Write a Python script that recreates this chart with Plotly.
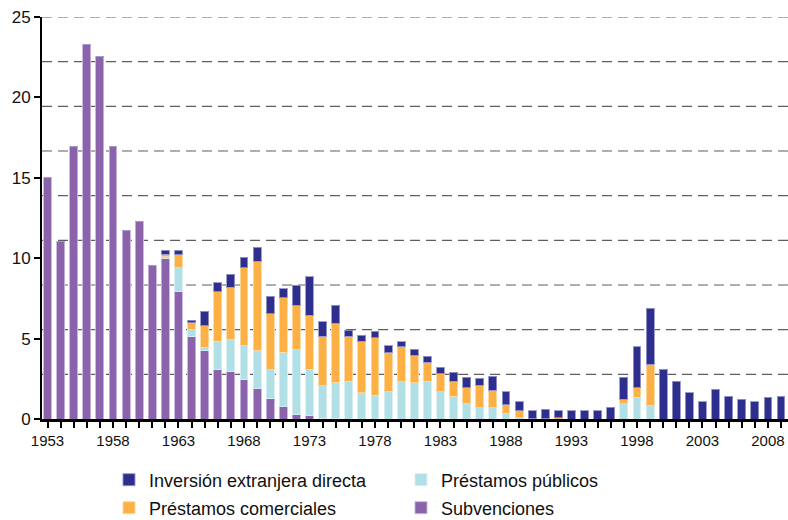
import plotly.graph_objects as go

years = list(range(1953, 2010))

subvenciones = [15.0, 11.05, 16.93, 23.32, 22.53, 16.93, 11.75, 12.29, 9.56,
                10.0, 7.95, 5.1, 4.25, 3.05, 2.95, 2.43, 1.9, 1.25, 0.75, 0.25,
                0.2, 0.05, 0.05] + [0] * 34

prestamos_publicos = [0] * 9 + [0.1, 1.45, 0.45, 0.2, 1.8, 1.97, 2.17, 2.38, 1.8, 3.4,
                                4.05, 2.9, 2.02, 2.23, 2.34, 1.62, 1.47, 1.68, 2.32, 2.24,
                                2.36, 1.68, 1.41, 0.95, 0.7, 0.7, 0.37, 0.1, 0.02, 0.03,
                                0, 0, 0, 0, 0, 0.95, 1.35, 0.81] + [0] * 10

prestamos_comerciales = [0] * 9 + [0.15, 0.8, 0.45, 1.35, 3.07, 3.28, 4.81, 5.54, 3.5, 3.4,
                                   2.76, 3.34, 3.09, 3.67, 2.8, 3.23, 3.59, 2.44, 2.16, 1.74,
                                   1.17, 1.12, 0.93, 0.98, 1.41, 1.08, 0.52, 0.42, 0, 0,
                                   0.07, 0, 0, 0, 0, 0.27, 0.58, 2.61] + [0] * 10

inversion_directa = [0] * 9 + [0.25, 0.3, 0.15, 0.9, 0.55, 0.8, 0.65, 0.85, 1.08, 0.56,
                               1.26, 2.4, 0.89, 1.12, 0.39, 0.35, 0.39, 0.44, 0.33, 0.35,
                               0.37, 0.43, 0.58, 0.68, 0.42, 0.87, 0.79, 0.56, 0.5, 0.59,
                               0.45, 0.52, 0.52, 0.52, 0.72, 1.39, 2.57, 3.46, 3.09, 2.36,
                               1.62, 1.08, 1.85, 1.43, 1.24, 1.08, 1.35, 1.43]

y_ticks = [0, 5, 10, 15, 20, 25]
x_label_years = [1953, 1958, 1963, 1968, 1973, 1978, 1983, 1988, 1993, 1998, 2003, 2008]

# (name, values, colour, edge colour, legend, rank)
series = [
    ("Subvenciones", subvenciones, "#8a63ab", "rgba(200,180,225,0.9)", "legend2", 2),
    ("Préstamos públicos", prestamos_publicos, "#b0dfe5", "rgba(215,240,243,0.9)", "legend", 2),
    ("Préstamos comerciales", prestamos_comerciales, "#fdb043", "rgba(254,215,160,0.9)", "legend2", 1),
    ("Inversión extranjera directa", inversion_directa, "#2e2e8f", "rgba(150,150,200,0.9)", "legend", 1),
]

fig = go.Figure()
for name, vals, color, edge, leg, rank in series:
    fig.add_trace(go.Bar(
        x=years, y=vals, name=name, width=0.6,
        marker=dict(color=color, line=dict(color=edge, width=1)),
        legend=leg, legendrank=rank,
    ))

# dashed grid lines: 9 equal divisions of the 0-25 range
for i in range(1, 10):
    fig.add_shape(type="line", xref="paper", x0=0, x1=1, yref="y",
                  y0=25 * i / 9, y1=25 * i / 9, layer="below",
                  line=dict(color="#5f5f5f", width=1.2, dash="10px,6px"))

legend_common = dict(orientation="h", xanchor="left", yanchor="middle",
                     entrywidth=247, entrywidthmode="pixels", traceorder="normal",
                     font=dict(size=18, color="#111111"), bgcolor="rgba(0,0,0,0)")

fig.update_layout(
    width=788, height=520,
    margin=dict(l=42, r=0, t=17, b=101, autoexpand=False),
    paper_bgcolor="white", plot_bgcolor="white",
    barmode="stack",
    font=dict(family="Liberation Sans, Arial, sans-serif", color="#111111"),
    showlegend=True,
    legend=dict(x=0.0898, y=-0.1517, **legend_common),
    legend2=dict(x=0.0898, y=-0.2214, **legend_common),
    xaxis=dict(range=[1952.58, 2009.53], tickmode="array", tickvals=years,
               ticktext=[str(y) if y in x_label_years else "" for y in years],
               ticks="outside", ticklen=6, tickwidth=2, tickcolor="black",
               showline=True, linecolor="black", linewidth=2.5, automargin=False,
               showgrid=False, zeroline=False, tickfont=dict(size=15)),
    yaxis=dict(range=[0, 25], tickmode="array", tickvals=y_ticks,
               ticks="outside", ticklen=6, tickwidth=2, tickcolor="black",
               showline=True, linecolor="black", linewidth=2, automargin=False,
               showgrid=False, zeroline=False, tickfont=dict(size=17)),
)

fig.write_html("out.html", config={"displayModeBar": False},
               post_script="document.body.style.margin='0';document.body.style.padding='0';")
